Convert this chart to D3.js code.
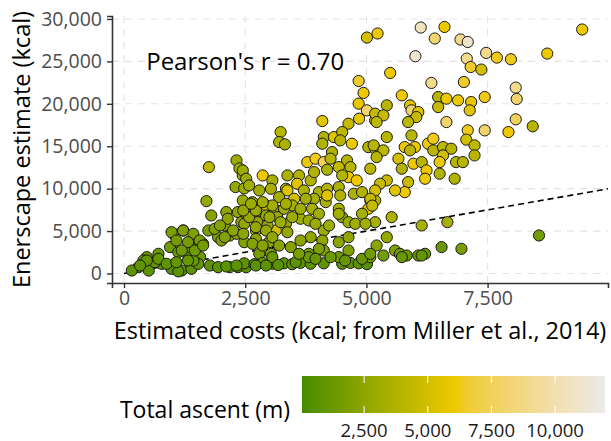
<!DOCTYPE html>
<html>
<head>
<meta charset="utf-8">
<script src="https://cdn.jsdelivr.net/npm/d3@7/dist/d3.min.js"></script>
<style>
body { margin: 0; background: #fff; }
text { font-family: "Open Sans", sans-serif; }
</style>
</head>
<body>
<div id="chart"></div>
<script>
// values: cost (x), enerscape estimate (y), total ascent (colour)
const costs = [
1750,1700,2320,2380,2300,2480,2450,1800,2110,2080,2350,2420,1740,1630,1430,1220,1020,950,1120,1330,
1570,710,470,300,160,510,780,980,1190,1390,1530,1770,1940,2180,2350,2520,1940,2180,2320,2010,
1870,400,640,1360,1430,1120,
3230,3200,3320,4090,4940,4840,5010,4630,4850,5180,4120,4330,4500,4460,4700,4090,3780,3950,4120,4290,
4260,4600,4430,4670,4630,4800,4190,4500,5080,5040,5180,2860,3370,3610,3570,3850,3920,3060,2450,2520,
2580,3030,3340,3370,3710,4020,4190,4430,4460,4740,4910,5080,5040,5180,4160,4190,3920,3750,3510,3470,
3200,2930,2650,2450,3100,3300,3160,2930,2720,2520,3340,3640,3810,3640,3880,4020,4430,4500,4630,4430,
3130,2750,2480,2720,2960,3370,2480,2990,4120,3850,3640,4090,4120,4430,4630,2790,3030,3810,4020,
2480,2690,2860,3060,3300,3470,3640,3850,4120,4500,4670,4840,5010,3060,3810,4430,
5730,5420,5180,5350,5210,5900,5930,6070,6030,5860,6480,6650,6480,6890,7160,7130,7440,6650,7090,7440,
7060,7230,7230,5930,5420,5150,5350,5210,5790,6000,5900,6270,6380,6380,6580,6750,6580,6510,6850,6990,
6510,6820,5660,5730,5970,6140,6240,6210,5860,5790,5590,5420,5280,5180,5080,5120,5180,5520,6140,6670,
5420,5210,5590,5690,5830,5730,6070,6210,6140,5350,5080,6550,6960,
5010,5230,6120,6610,6410,6940,7090,6010,9450,8730,7470,7690,7980,7070,7150,7370,5490,4840,6340,7010,
8080,8100,8080,7930,8430,8560,
980,1220,1430,1080,1320,1560,1190,1460,1630,2080,470,330,710,880,1080,1320,2110,2320,2720,2930,
3180,3540,2250,2460,2720,2930,3060,2720,2580,2460,2720,3000,3230,3470,3060,2860,2620,2140,1980,3340,
2790,3950,4230,4910,4770,4980,4630,2650,2860,3200,3440,3610,3950,4260,4560,4910,5080
];
const enerscape = [
12540,8530,13330,12390,10190,10030,11560,6840,7240,5660,7240,6060,5070,3500,3700,5070,4680,3110,2520,1930,
1930,2320,1930,750,350,350,1140,550,350,550,1140,940,750,750,750,750,4280,4480,4680,3890,
5270,1530,1330,3110,1530,250,
16670,15490,15220,17970,21280,20020,19230,17660,18250,18050,16080,16080,16670,15690,15300,15300,13130,13530,13130,14310,
13530,13330,12540,12540,11360,10970,12230,11560,12350,14900,14710,11560,11560,11560,10580,10970,11950,10970,12150,11170,
10380,9990,9990,9790,9790,9590,9990,10180,9200,9400,9590,8610,7630,8610,8410,9200,8810,8810,8810,8020,
9000,8020,8410,8610,7630,7630,6640,6840,7230,7040,5860,6450,6250,7630,7630,7040,7630,6640,6050,7040,
5070,6050,5860,5070,5660,4870,3690,3690,5070,4280,3890,3890,2710,3690,2710,2320,2320,2320,2910,
1200,1100,1250,1150,1200,1100,1250,1150,1200,1150,1250,1200,1100,1930,1930,1930,
21000,19820,18840,18640,17850,19820,19230,19030,18440,17850,20800,20610,19620,20410,20210,19230,20800,17850,16870,16870,
15780,15100,13920,16280,16080,15100,14510,13720,14900,14900,14510,15300,15890,14510,14900,14710,13920,13130,13130,13130,
11760,11170,13530,12350,12940,13130,12150,11170,10770,9590,9790,10970,10580,9790,8810,8000,6050,6640,5660,6050,
4280,3300,2710,2320,2120,1930,2120,2320,2120,2120,1930,3110,2910,
27810,28290,28990,29060,27700,27580,27290,25610,28760,25920,26000,25450,25250,25330,24340,24040,23640,22690,22460,22570,
21910,20570,18170,16670,17350,4480,
4870,5070,4680,3890,3690,3890,2710,2710,3300,4280,1530,940,1730,1140,1330,1530,830,940,940,940,
1000,1330,5070,4680,5460,5070,4280,4080,6640,7430,7430,6640,6050,6640,8020,8410,8220,6450,5660,8220,
9790,5860,5660,7040,5860,5860,4280,3500,3300,3300,3110,2320,1730,1930,1530,1730,2320
];
const ascent = [
4200,2800,3000,3200,2800,3000,3200,2200,2400,2200,2600,2600,1800,1600,1600,1800,1800,1500,1400,1300,
1300,1200,1100,900,800,800,900,800,700,700,900,800,700,700,700,800,2000,2200,2400,2000,
2000,1000,1000,1500,1200,700,
4000,3800,3600,5500,6000,5800,8000,4500,5800,5500,3800,5500,4200,4000,6000,3800,6000,6200,7500,3800,
4000,3800,4500,4000,6000,6000,3600,3800,4000,3800,4000,6000,3600,3800,5500,3800,3800,3400,3000,3000,
3200,3400,3600,5500,3600,3600,3800,3600,3800,3600,3800,3800,5500,4000,3400,5500,3400,3200,5000,3400,
3400,5000,3000,3000,3200,3200,3000,3000,2800,2800,3000,3200,3000,3200,3400,3200,3400,3000,3000,3200,
5000,2800,2600,2600,2800,2800,2200,2400,3000,2600,2400,2600,2000,2400,2000,1800,1800,1800,2000,
800,700,800,700,700,800,800,700,800,700,800,700,600,1200,1200,1300,
6000,4000,4500,4500,4200,5500,8000,5500,4500,4200,4000,6000,4500,6000,5800,5500,6200,8000,6200,8000,
5000,4200,4000,4000,4000,4000,4200,4000,6000,6000,4000,6000,6200,4000,4200,4000,5000,6000,4000,4000,
3800,3800,5000,3800,6000,4000,6000,6000,4500,6000,5500,4500,4500,5000,4500,4500,3400,3600,3400,3400,
2800,2400,2000,1600,1200,1200,1200,1400,1000,1600,1400,1200,1800,
5000,6000,10500,6000,8000,9000,11000,11000,6000,6000,9000,6200,6200,9000,6500,5000,6000,6500,9000,6500,
9000,8000,7500,6000,4000,1500,
1800,1900,1900,1600,1600,1700,1400,1400,1600,2100,1000,900,1100,900,1000,1100,700,800,700,800,
700,800,2400,2400,2700,2800,2600,2400,2800,2800,2900,3000,3000,3100,3200,3200,3000,2400,2200,3300,
3200,3000,3000,3400,3200,3200,2600,2200,2200,2300,2200,1800,1200,1300,1100,1200,1500
];

const xTicks = [0, 2500, 5000, 7500];
const yTicks = [0, 5000, 10000, 15000, 20000, 25000, 30000];
const legendTicks = [2500, 5000, 7500, 10000];
const ascentRange = [60, 11960];
const pearsonLabel = "Pearson's r = 0.70";

const width = 611, height = 441;
const panel = {left: 112, right: 608, top: 16, bottom: 283};
const fmt = d3.format(",");

const svg = d3.select("#chart").append("svg")
	.attr("width", width)
	.attr("height", height);

const xScale = d3.scaleLinear()
	.domain([-248, 9983])
	.range([panel.left, panel.right]);

const yScale = d3.scaleLinear()
	.domain([-1120, 30350])
	.range([panel.bottom, panel.top]);

const cScale = d3.scaleLinear()
	.domain([ascentRange[0], (ascentRange[0] + ascentRange[1]) / 2, ascentRange[1]])
	.range(["#458B00", "#EEC900", "#EBEBEB"])
	.interpolate(d3.interpolateLab);

// dashed grid at the major breaks
const grid = svg.append("g").attr("class", "grid")
	.attr("stroke", "#e3e3e3")
	.attr("stroke-width", 1.1)
	.attr("stroke-dasharray", "7,6");
grid.selectAll("line.h").data(yTicks).enter().append("line")
	.attr("class", "h")
	.attr("x1", panel.left).attr("x2", panel.right)
	.attr("y1", d => yScale(d)).attr("y2", d => yScale(d));
grid.selectAll("line.v").data(xTicks).enter().append("line")
	.attr("class", "v")
	.attr("y1", panel.top).attr("y2", panel.bottom)
	.attr("x1", d => xScale(d)).attr("x2", d => xScale(d));

// 1:1 reference line
const xMax = xScale.domain()[1];
svg.append("line")
	.attr("x1", xScale(0)).attr("y1", yScale(0))
	.attr("x2", xScale(xMax)).attr("y2", yScale(xMax))
	.attr("stroke", "#000")
	.attr("stroke-width", 1.6)
	.attr("stroke-dasharray", "6,4");

const points = costs.map((c, i) => ({cost: c, est: enerscape[i], asc: ascent[i]}));

svg.append("g").selectAll("circle")
	.data(points)
	.enter().append("circle")
	.attr("cx", d => xScale(d.cost))
	.attr("cy", d => yScale(d.est))
	.attr("r", 5.6)
	.attr("fill", d => cScale(d.asc))
	.attr("stroke", "#1a1a1a")
	.attr("stroke-width", 1);

svg.append("text")
	.attr("x", xScale(2500))
	.attr("y", yScale(25000))
	.attr("dy", "0.35em")
	.attr("text-anchor", "middle")
	.style("font-size", "24px")
	.attr("fill", "#000")
	.text(pearsonLabel);

// axes
const xAxis = d3.axisBottom(xScale).tickValues(xTicks).tickFormat(fmt).tickSize(5).tickPadding(3);
const yAxis = d3.axisLeft(yScale).tickValues(yTicks).tickFormat(fmt).tickSize(5).tickPadding(5);

const gx = svg.append("g")
	.attr("class", "x axis")
	.attr("transform", `translate(0, ${panel.bottom})`)
	.call(xAxis);
const gy = svg.append("g")
	.attr("class", "y axis")
	.attr("transform", `translate(${panel.left}, 0)`)
	.call(yAxis);

[gx, gy].forEach(g => {
	g.select(".domain").attr("stroke", "#333").attr("stroke-width", 1.6);
	g.selectAll(".tick line").attr("stroke", "#333").attr("stroke-width", 1.4);
	g.selectAll(".tick text").attr("fill", "#4d4d4d").style("font-size", "19.5px")
		.style("font-family", "'Open Sans', sans-serif");
});

svg.append("text")
	.attr("x", (panel.left + panel.right) / 2)
	.attr("y", 339)
	.attr("text-anchor", "middle")
	.style("font-size", "23.5px")
	.text("Estimated costs (kcal; from Miller et al., 2014)");

svg.append("text")
	.attr("transform", "rotate(-90)")
	.attr("x", -(panel.top + panel.bottom) / 2)
	.attr("y", 30)
	.attr("text-anchor", "middle")
	.style("font-size", "23.5px")
	.text("Enerscape estimate (kcal)");

// colour bar legend
const bar = {x0: 302, x1: 605, y0: 376, y1: 413};
const lScale = d3.scaleLinear().domain(ascentRange).range([bar.x0, bar.x1]);

const grad = svg.append("defs").append("linearGradient")
	.attr("id", "ascentGrad")
	.attr("x1", "0%").attr("x2", "100%");
grad.selectAll("stop")
	.data(d3.range(0, 1.0001, 0.05))
	.enter().append("stop")
	.attr("offset", d => (d * 100) + "%")
	.attr("stop-color", d => cScale(ascentRange[0] + d * (ascentRange[1] - ascentRange[0])));

svg.append("rect")
	.attr("x", bar.x0).attr("y", bar.y0)
	.attr("width", bar.x1 - bar.x0).attr("height", bar.y1 - bar.y0)
	.attr("fill", "url(#ascentGrad)");

const lt = svg.append("g").attr("stroke", "#fff").attr("stroke-width", 1);
lt.selectAll("line.top").data(legendTicks).enter().append("line")
	.attr("x1", d => lScale(d)).attr("x2", d => lScale(d))
	.attr("y1", bar.y0).attr("y2", bar.y0 + 7);
lt.selectAll("line.bot").data(legendTicks).enter().append("line")
	.attr("x1", d => lScale(d)).attr("x2", d => lScale(d))
	.attr("y1", bar.y1 - 7).attr("y2", bar.y1);

svg.append("g").selectAll("text")
	.data(legendTicks)
	.enter().append("text")
	.attr("x", d => lScale(d))
	.attr("y", 437)
	.attr("text-anchor", "middle")
	.attr("fill", "#1a1a1a")
	.style("font-size", "18.5px")
	.text(d => fmt(d));

svg.append("text")
	.attr("x", 290)
	.attr("y", 418)
	.attr("text-anchor", "end")
	.style("font-size", "23px")
	.text("Total ascent (m)");
</script>
</body>
</html>
